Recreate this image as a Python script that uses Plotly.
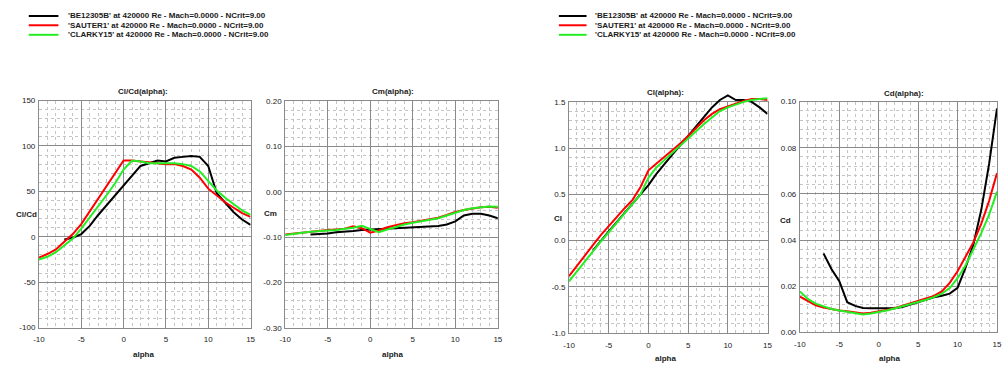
import plotly.graph_objects as go

# ---------------- data ----------------
names = ["'BE12305B' at 420000 Re - Mach=0.0000 - NCrit=9.00",
         "'SAUTER1' at 420000 Re - Mach=0.0000 - NCrit=9.00",
         "'CLARKY15' at 420000 Re - Mach=0.0000 - NCrit=9.00"]
colors = ["#000000", "#ff0000", "#22ee22"]

alpha_be = [-7, -6, -5, -4, -3, -2, -1, 0, 1, 2, 3, 4, 5, 6, 7, 8, 9, 10, 11, 12, 13, 14, 15]
alpha = [-10, -9, -8, -7, -6, -5, -4, -3, -2, -1, 0, 1, 2, 3, 4, 5, 6, 7, 8, 9, 10, 11, 12, 13, 14, 15]

# Cl/Cd
clcd_be = [-3, -1, 3, 12, 24, 35, 45, 57, 68, 78, 81, 84, 83, 87, 88, 89, 88, 78, 48, 37, 27, 19, 13]
clcd_sa = [-23, -19, -14, -6, 3, 14, 28, 42, 56, 70, 84, 84, 83, 82, 81, 80, 80, 78, 74, 65, 53, 45, 38, 32, 26, 22]
clcd_ck = [-25, -22, -17, -10, -2, 9, 21, 34, 46, 59, 74, 84, 83, 81, 81, 81, 81, 80, 78, 72, 62, 51, 43, 36, 29, 24]

# Cm
cm_be = [-0.094, -0.093, -0.092, -0.089, -0.088, -0.086, -0.084, -0.083, -0.082, -0.081, -0.080, -0.079,
         -0.078, -0.078, -0.077, -0.075, -0.072, -0.065, -0.052, -0.048, -0.048, -0.052, -0.058]
cm_sa = [-0.094, -0.092, -0.089, -0.087, -0.086, -0.084, -0.083, -0.081, -0.076, -0.080, -0.090, -0.085,
         -0.078, -0.073, -0.069, -0.067, -0.064, -0.061, -0.057, -0.051, -0.044, -0.040, -0.037, -0.034,
         -0.033, -0.035]
cm_ck = [-0.095, -0.092, -0.090, -0.088, -0.086, -0.085, -0.084, -0.082, -0.079, -0.075, -0.082, -0.089,
         -0.083, -0.077, -0.072, -0.068, -0.065, -0.062, -0.058, -0.052, -0.046, -0.040, -0.036, -0.034,
         -0.032, -0.033]

# Cl
cl_be = [-0.11, 0.00, 0.10, 0.20, 0.30, 0.40, 0.50, 0.60, 0.72, 0.83, 0.93, 1.03, 1.13, 1.24, 1.34,
         1.44, 1.52, 1.57, 1.52, 1.52, 1.50, 1.44, 1.37]
cl_sa = [-0.385, -0.27, -0.16, -0.05, 0.06, 0.16, 0.26, 0.35, 0.44, 0.58, 0.76, 0.83, 0.90, 0.97, 1.05,
         1.13, 1.22, 1.30, 1.37, 1.42, 1.45, 1.48, 1.51, 1.53, 1.53, 1.52]
cl_ck = [-0.44, -0.33, -0.22, -0.11, -0.01, 0.09, 0.19, 0.29, 0.39, 0.50, 0.68, 0.79, 0.87, 0.95, 1.02,
         1.10, 1.18, 1.26, 1.33, 1.40, 1.44, 1.47, 1.50, 1.52, 1.53, 1.54]

# Cd
cd_be = [0.0342, 0.0275, 0.0222, 0.0131, 0.0115, 0.0106, 0.0105, 0.0105, 0.0104, 0.0105, 0.0110, 0.0120,
         0.0132, 0.0143, 0.0152, 0.0159, 0.0168, 0.0193, 0.028, 0.038, 0.053, 0.073, 0.097]
cd_sa = [0.0155, 0.0135, 0.0118, 0.0108, 0.0100, 0.0095, 0.0092, 0.0087, 0.0082, 0.0085, 0.0090, 0.0097,
         0.0105, 0.0115, 0.0125, 0.0135, 0.0145, 0.0158, 0.0178, 0.0215, 0.0265, 0.0325, 0.039, 0.047,
         0.057, 0.069]
cd_ck = [0.0178, 0.0145, 0.0125, 0.0112, 0.0102, 0.0095, 0.0090, 0.0085, 0.0078, 0.0082, 0.0088, 0.0095,
         0.0104, 0.0113, 0.0122, 0.0132, 0.0142, 0.0153, 0.0168, 0.0192, 0.0235, 0.029, 0.036, 0.043,
         0.051, 0.061]

x_ticks = [-10, -5, 0, 5, 10, 15]
x_ticktext = ["-10", "-5", "0", "5", "10", "15"]
clcd_ticks = [-100, -50, 0, 50, 100, 150]
clcd_ticktext = ["-100", "-50", "0", "50", "100", "150"]
cm_ticks = [-0.30, -0.20, -0.10, 0.00, 0.10, 0.20]
cm_ticktext = ["-0.30", "-0.20", "-0.10", "0.00", "0.10", "0.20"]
cl_ticks = [-1.0, -0.5, 0.0, 0.5, 1.0, 1.5]
cl_ticktext = ["-1.0", "-0.5", "0.0", "0.5", "1.0", "1.5"]
cd_ticks = [0.00, 0.02, 0.04, 0.06, 0.08, 0.10]
cd_ticktext = ["0.00", "0.02", "0.04", "0.06", "0.08", "0.10"]

titles = ["Cl/Cd(alpha):", "Cm(alpha):", "Cl(alpha):", "Cd(alpha):"]
ylabels = ["Cl/Cd", "Cm", "Cl", "Cd"]
xlabel = "alpha"

# ---------------- figure ----------------
W, H = 1002, 368
FONT = "Liberation Sans, Arial, sans-serif"
TXT = "#1a1a1a"


def px(x):
    return x / W


def py(y):
    return 1 - y / H


fig = go.Figure()

# pixel boxes: (left, right, top, bottom)
boxes = [(33.3, 247.3, 99.0, 331.7),
         (282.3, 497.3, 99.7, 332.0),
         (569.3, 770.0, 100.3, 337.3),
         (802.7, 1002.0, 100.0, 336.7)]
yinfo = [(clcd_ticks, clcd_ticktext, [-100, 150], 10),
         (cm_ticks, cm_ticktext, [-0.30, 0.20], 0.02),
         (cl_ticks, cl_ticktext, [-1.0, 1.5], 0.1),
         (cd_ticks, cd_ticktext, [0.0, 0.10], 0.004)]

# keep the visible Cl subplot (x3/y3) alive with an empty trace; Cl curves go on an
# invisible overlay (x5/y5) with the same scale so they may pass above the frame
fig.add_trace(go.Scatter(x=[], y=[], xaxis="x3", yaxis="y3", showlegend=False, hoverinfo="skip"))

series = [
    ("x", "y", [(alpha_be, clcd_be), (alpha, clcd_sa), (alpha, clcd_ck)]),
    ("x2", "y2", [(alpha_be, cm_be), (alpha, cm_sa), (alpha, cm_ck)]),
    ("x5", "y5", [(alpha_be, cl_be), (alpha, cl_sa), (alpha, cl_ck)]),
    ("x4", "y4", [(alpha_be, cd_be), (alpha, cd_sa), (alpha, cd_ck)]),
]
for xa, ya, data in series:
    for i in [0, 1, 2]:
        xs, ys = data[i]
        fig.add_trace(go.Scatter(x=xs, y=ys, mode="lines", xaxis=xa, yaxis=ya,
                                 line=dict(color=colors[i], width=2),
                                 name=names[i], showlegend=False, hoverinfo="skip"))


def axis_common():
    return dict(showgrid=True, gridcolor="#8a8a8a", gridwidth=1,
                showline=True, linecolor="#8a8a8a", linewidth=1, mirror=True,
                zeroline=False, ticks="",
                tickfont=dict(family=FONT, size=8, color=TXT),
                tickprefix="<b>", ticksuffix="</b>",
                layer="below traces")


layout = {}
for k, (l, r, t, b) in enumerate(boxes):
    sx = "" if k == 0 else str(k + 1)
    xa = axis_common()
    xa.update(domain=[px(l), px(r)], range=[-10, 15], anchor="y" + sx,
              tickvals=x_ticks, ticktext=x_ticktext, ticklabelstandoff=4,
              minor=dict(dtick=1, tick0=0, showgrid=True, gridcolor="#c4c4c4",
                         griddash="dot", gridwidth=1))
    ya = axis_common()
    tv, tt, rg, mdt = yinfo[k]
    ya.update(domain=[py(b), py(t)], range=rg, anchor="x" + sx,
              tickvals=tv, ticktext=tt, ticklabelstandoff=1,
              minor=dict(dtick=mdt, tick0=0, showgrid=True, gridcolor="#c4c4c4",
                         griddash="dot", gridwidth=1))
    layout["xaxis" + sx] = xa
    layout["yaxis" + sx] = ya

l3, r3, t3, b3 = boxes[2]
scale = (b3 - t3) / (1.5 - (-1.0))
ext_top = 1.62
layout["xaxis5"] = dict(domain=[px(l3), px(r3)], range=[-10, 15], anchor="y5",
                        visible=False, showgrid=False, zeroline=False)
layout["yaxis5"] = dict(domain=[py(b3), py(b3 - (ext_top + 1.0) * scale)], range=[-1.0, ext_top],
                        anchor="x5", visible=False, showgrid=False, zeroline=False)

fig.update_layout(**layout)

anns = []
shapes = []
title_pos = [(139, 90), (391, 90), (667, 91), (908, 92)]
ylab_pos = [(21, 216), (267, 215), (558, 220), (788, 222)]
xlab_pos = [(139, 359), (391, 359), (667, 363), (893, 363)]
for k in range(4):
    anns.append(dict(text="<b>" + titles[k] + "</b>", x=px(title_pos[k][0]), y=py(title_pos[k][1]),
                     xref="paper", yref="paper", showarrow=False, xanchor="center", yanchor="middle",
                     font=dict(family=FONT, size=8, color=TXT)))
    anns.append(dict(text="<b>" + ylabels[k] + "</b>", x=px(ylab_pos[k][0]), y=py(ylab_pos[k][1]),
                     xref="paper", yref="paper", showarrow=False, xanchor="center", yanchor="middle",
                     font=dict(family=FONT, size=8, color=TXT)))
    anns.append(dict(text="<b>" + xlabel + "</b>", x=px(xlab_pos[k][0]), y=py(xlab_pos[k][1]),
                     xref="paper", yref="paper", showarrow=False, xanchor="center", yanchor="middle",
                     font=dict(family=FONT, size=8, color=TXT)))

# legends (two copies)
leg_rows = [12.3, 21.8, 31.6]
for (lx0, lx1, tx) in [(23, 53, 61), (559, 587, 594)]:
    for i in range(3):
        shapes.append(dict(type="line", xref="paper", yref="paper",
                           x0=px(lx0), x1=px(lx1), y0=py(leg_rows[i]), y1=py(leg_rows[i]),
                           line=dict(color=colors[i], width=2)))
        anns.append(dict(text="<b>" + names[i] + "</b>", x=px(tx), y=py(leg_rows[i]),
                         xref="paper", yref="paper", showarrow=False, xanchor="left", yanchor="middle",
                         font=dict(family=FONT, size=8, color=TXT)))

fig.update_layout(width=W, height=H, margin=dict(l=0, r=0, t=0, b=0),
                  paper_bgcolor="white", plot_bgcolor="rgba(0,0,0,0)",
                  annotations=anns, shapes=shapes, showlegend=False,
                  font=dict(family=FONT, size=8, color=TXT))

fig.write_html("out.html")
